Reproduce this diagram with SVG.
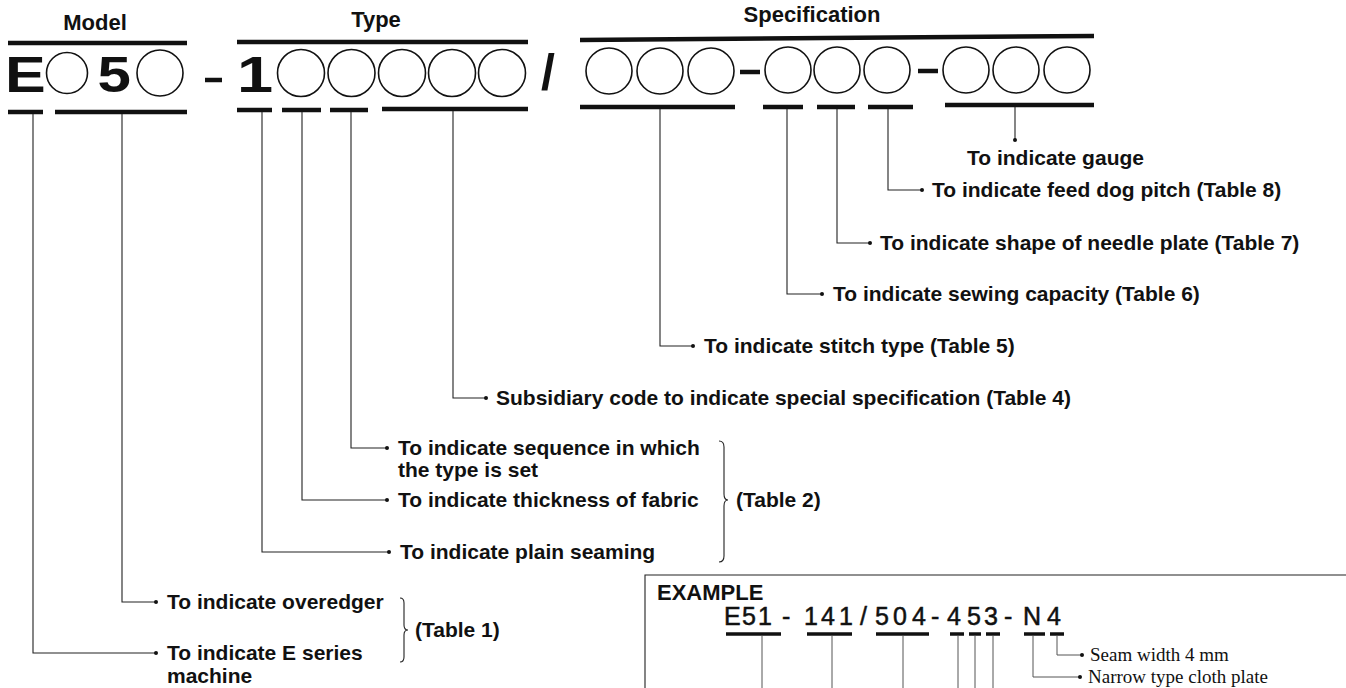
<svg xmlns="http://www.w3.org/2000/svg" width="1346" height="688" viewBox="0 0 1346 688">
<style>
.bar{stroke:#111;stroke-width:4.5;fill:none}
.circ{fill:none;stroke:#111;stroke-width:1.6}
.big{font-family:"Liberation Sans",Arial,sans-serif;font-weight:bold;font-size:50px;fill:#111}
.hdr{font-family:"Liberation Sans",Arial,sans-serif;font-weight:bold;font-size:22px;fill:#111}
.lbl{font-family:"Liberation Sans",Arial,sans-serif;font-weight:bold;font-size:21px;fill:#111}
.conn{fill:none;stroke:#222;stroke-width:1.1}
.thin{fill:none;stroke:#555;stroke-width:1}
.dot{fill:#111}
.ex{font-family:"Liberation Sans",Arial,sans-serif;font-size:25px;fill:#111;stroke:#111;stroke-width:0.5}
.serif{font-family:"Liberation Serif","Times New Roman",serif;font-size:19px;fill:#111}
</style>
<rect width="1346" height="688" fill="#fff"/>

<g id="model">
<text class="hdr" x="95" y="30" text-anchor="middle">Model</text>
<line class="bar" x1="8" y1="43" x2="187" y2="43"/>
<text class="big" transform="translate(5,92) scale(1.22,1)">E</text>
<circle class="circ" cx="67" cy="73" r="20.5"/>
<text class="big" transform="translate(97.5,92) scale(1.2,1)">5</text>
<circle class="circ" cx="160" cy="73" r="23"/>
<line class="bar" x1="8" y1="112" x2="43" y2="112"/>
<line class="bar" x1="55" y1="112" x2="187" y2="112"/>
</g>

<line class="bar" x1="205" y1="80" x2="222" y2="80"/>

<g id="type">
<text class="hdr" x="376" y="27" text-anchor="middle">Type</text>
<line class="bar" x1="237" y1="42" x2="528" y2="42"/>
<text class="big" transform="translate(237,92) scale(1.3,1)">1</text>
<circle class="circ" cx="301" cy="73" r="23.5"/>
<circle class="circ" cx="351.5" cy="73" r="23.5"/>
<circle class="circ" cx="402" cy="73" r="23.5"/>
<circle class="circ" cx="452" cy="73" r="23.5"/>
<circle class="circ" cx="502" cy="73" r="23.5"/>
<line class="bar" x1="237" y1="110" x2="272" y2="110"/>
<line class="bar" x1="282" y1="110" x2="321" y2="110"/>
<line class="bar" x1="330" y1="110" x2="368" y2="110"/>
<line class="bar" x1="382" y1="109" x2="528" y2="109"/>
</g>

<text class="big" x="541" y="89">/</text>

<g id="specification">
<text class="hdr" x="812" y="22" text-anchor="middle">Specification</text>
<line class="bar" x1="580" y1="40" x2="1094" y2="36"/>
<circle class="circ" cx="609" cy="71" r="23"/>
<circle class="circ" cx="660" cy="71" r="23"/>
<circle class="circ" cx="711" cy="71" r="23"/>
<line class="bar" x1="740" y1="72" x2="760" y2="72"/>
<circle class="circ" cx="788" cy="70" r="23"/>
<circle class="circ" cx="837" cy="70" r="23"/>
<circle class="circ" cx="887" cy="70" r="23"/>
<line class="bar" x1="918" y1="71" x2="938" y2="71"/>
<circle class="circ" cx="966" cy="70" r="23"/>
<circle class="circ" cx="1016" cy="70" r="23"/>
<circle class="circ" cx="1067" cy="70" r="23"/>
<line class="bar" x1="580" y1="107" x2="735" y2="107"/>
<line class="bar" x1="763" y1="107" x2="803" y2="107"/>
<line class="bar" x1="817" y1="107" x2="855" y2="107"/>
<line class="bar" x1="868" y1="107" x2="913" y2="107"/>
<line class="bar" x1="945" y1="105" x2="1094" y2="105"/>
</g>

<g id="connectors">
<path class="conn" d="M33,114 V653 H156"/>
<path class="conn" d="M122,114 V602 H156"/>
<path class="conn" d="M262,112 V552 H389"/>
<path class="conn" d="M302,112 V500 H387"/>
<path class="conn" d="M351,112 V448 H387"/>
<path class="conn" d="M453,111 V398 H486"/>
<path class="conn" d="M660,109 V346 H693"/>
<path class="conn" d="M787,109 V294 H822"/>
<path class="conn" d="M837,109 V243 H870"/>
<path class="conn" d="M888,109 V190 H922"/>
<path class="conn" d="M1015,107 V140"/>
<circle class="dot" cx="156" cy="653" r="2"/>
<circle class="dot" cx="156" cy="602" r="2"/>
<circle class="dot" cx="389" cy="552" r="2"/>
<circle class="dot" cx="387" cy="500" r="2"/>
<circle class="dot" cx="387" cy="448" r="2"/>
<circle class="dot" cx="486" cy="398" r="2"/>
<circle class="dot" cx="693" cy="346" r="2"/>
<circle class="dot" cx="822" cy="294" r="2"/>
<circle class="dot" cx="870" cy="243" r="2"/>
<circle class="dot" cx="922" cy="190" r="2"/>
<circle class="dot" cx="1015" cy="140" r="2"/>
<path class="conn" d="M719,441 q5,0 5,6 v47 q0,6 4,6 q-4,0 -4,6 v50 q0,6 -5,6"/>
<path class="conn" d="M400,598 q4,0 4,5 v22 q0,5 4,5 q-4,0 -4,5 v22 q0,5 -4,5"/>
</g>

<g id="label-gauge"><text class="lbl" x="967" y="165">To indicate gauge</text></g>
<g id="label-feed"><text class="lbl" x="932" y="197">To indicate feed dog pitch (Table 8)</text></g>
<g id="label-needle"><text class="lbl" x="880" y="250">To indicate shape of needle plate (Table 7)</text></g>
<g id="label-capacity"><text class="lbl" x="833" y="301">To indicate sewing capacity (Table 6)</text></g>
<g id="label-stitch"><text class="lbl" x="704" y="353">To indicate stitch type (Table 5)</text></g>
<g id="label-subsidiary"><text class="lbl" x="496" y="405">Subsidiary code to indicate special specification (Table 4)</text></g>
<g id="label-sequence"><text class="lbl" x="398" y="455">To indicate sequence in which<tspan x="398" y="477">the type is set</tspan></text></g>
<g id="label-thickness"><text class="lbl" x="398" y="507">To indicate thickness of fabric</text></g>
<g id="label-plain"><text class="lbl" x="400" y="559">To indicate plain seaming</text></g>
<g id="label-table2"><text class="lbl" x="736" y="507">(Table 2)</text></g>
<g id="label-overedger"><text class="lbl" x="167" y="609">To indicate overedger</text></g>
<g id="label-eseries"><text class="lbl" x="167" y="660">To indicate E series<tspan x="167" y="683">machine</tspan></text></g>
<g id="label-table1"><text class="lbl" x="415" y="637">(Table 1)</text></g>

<g id="example">
<path class="conn" d="M645,688 V575 H1346"/>
<text class="hdr" x="657" y="600">EXAMPLE</text>
<text class="ex" x="724 738 742 758 782 804 821 839 860 875 893 912 931 947 967 984 1004 1023 1047" y="625">E 51-141/504-453-N4</text>
<g stroke="#111" stroke-width="3.5">
<line x1="726" y1="634" x2="781" y2="634"/>
<line x1="807" y1="634" x2="852" y2="634"/>
<line x1="876" y1="634" x2="929" y2="634"/>
<line x1="950" y1="634" x2="964" y2="634"/>
<line x1="969" y1="634" x2="981" y2="634"/>
<line x1="986" y1="634" x2="1000" y2="634"/>
<line x1="1024" y1="634" x2="1045" y2="634"/>
<line x1="1050" y1="634" x2="1064" y2="634"/>
</g>
<path class="thin" d="M762,636 V688 M832,636 V688 M903,636 V688 M958,636 V688 M975,636 V688 M993,636 V688 M1033,636 V677 H1080 M1057,636 V655 H1082"/>
<circle class="dot" cx="1082" cy="655" r="2"/>
<circle class="dot" cx="1080" cy="677" r="2"/>
<text class="serif" x="1090" y="661">Seam width 4 mm</text>
<text class="serif" x="1088" y="683">Narrow type cloth plate</text>
</g>
</svg>
